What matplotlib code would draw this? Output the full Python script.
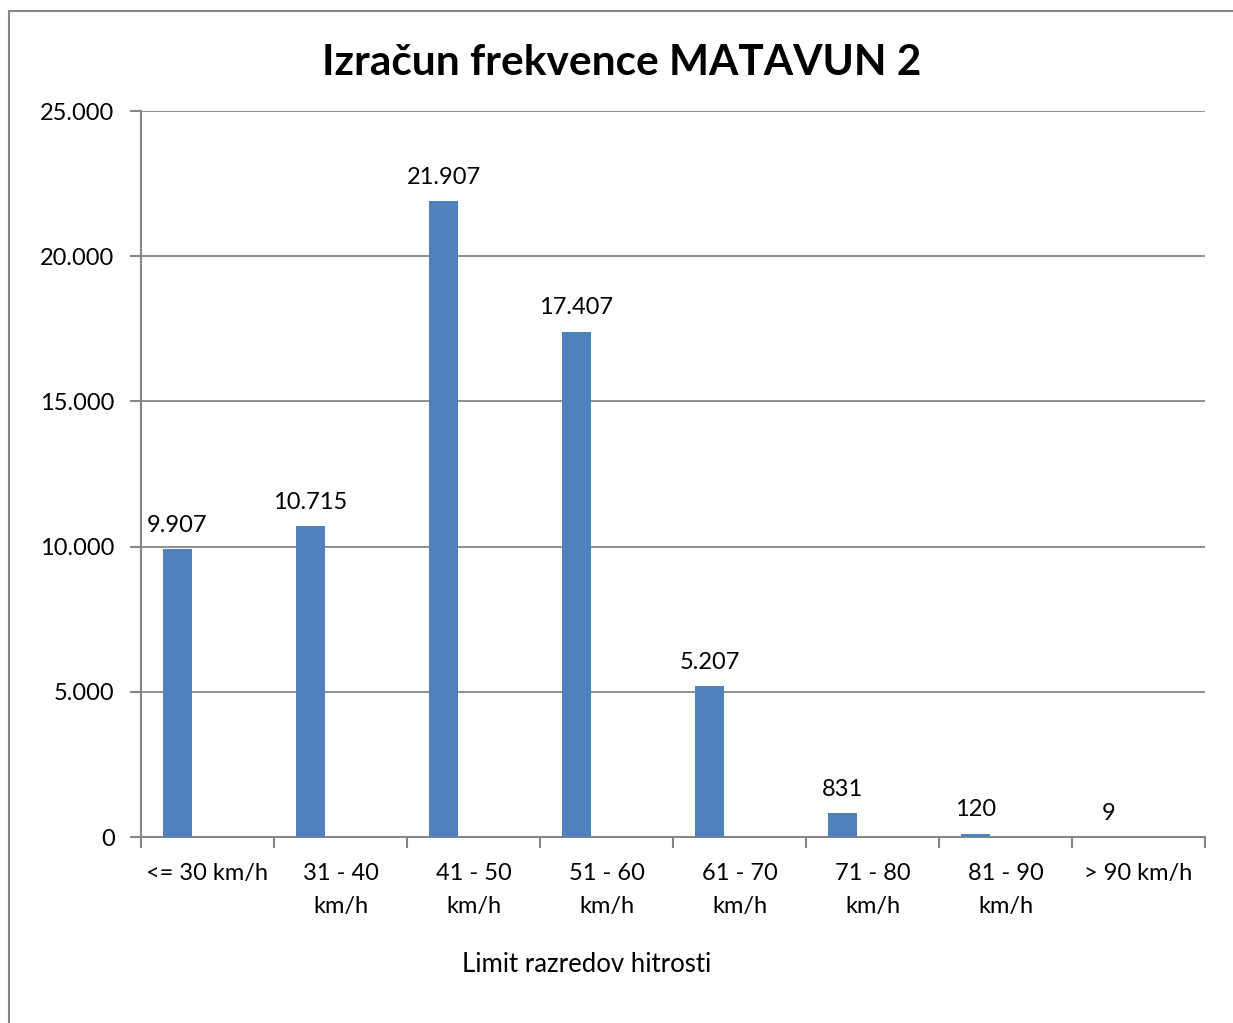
import matplotlib
matplotlib.use("Agg")
import matplotlib.pyplot as plt
from matplotlib.patches import Rectangle
from matplotlib.ticker import FuncFormatter
import numpy as np

categories = ["<= 30 km/h", "31 - 40\nkm/h", "41 - 50\nkm/h", "51 - 60\nkm/h",
              "61 - 70\nkm/h", "71 - 80\nkm/h", "81 - 90\nkm/h", "> 90 km/h"]
values = [9907, 10715, 21907, 17407, 5207, 831, 120, 9]
title = "Izračun frekvence MATAVUN 2"
xlabel = "Limit razredov hitrosti"

plt.rcParams['font.family'] = ['Lato', 'DejaVu Sans']

W, H = 1233, 1023
fig = plt.figure(figsize=(W / 100, H / 100), dpi=100)
fig.patches.append(Rectangle((9 / W, -0.05), 1.1, 1 - 11 / H + 0.05,
                             transform=fig.transFigure, fill=False,
                             edgecolor="#868686", linewidth=1.5))

ax = fig.add_axes([141 / W, 1 - 837 / H, (1205 - 141) / W, (837 - 111) / H])
axis_col = "#868686"
bar_col = "#4F81BD"

x = np.arange(len(values))
ax.bar(x + 0.274, values, width=0.22, color=bar_col, zorder=3)
for xi, v in zip(x, values):
    ax.text(xi + 0.274, v + 450, f"{v:,}".replace(",", "."), ha="center",
            va="bottom", fontsize=17, color="black")

ax.set_xlim(0, len(values))
ax.set_ylim(0, 25000)
ax.set_yticks(np.arange(0, 25001, 5000))
ax.yaxis.set_major_formatter(FuncFormatter(lambda v, p: f"{int(v):,}".replace(",", ".")))
ax.tick_params(axis="y", length=8, width=1.5, color=axis_col, labelsize=17, pad=11)
ax.grid(axis="y", color=axis_col, linewidth=1.3, zorder=0)

ax.set_xticks(np.arange(0, len(values) + 1))
ax.set_xticklabels([])
ax.tick_params(axis="x", which="major", length=8, width=1.5, color=axis_col)
ax.set_xticks(x + 0.5, minor=True)
ax.set_xticklabels(categories, minor=True, fontsize=17, linespacing=1.67)
ax.tick_params(axis="x", which="minor", length=0, pad=19)

for s in ["top", "right"]:
    ax.spines[s].set_visible(False)
for s in ["left", "bottom"]:
    ax.spines[s].set_color(axis_col)
    ax.spines[s].set_linewidth(1.5)

fig.text(622 / W, 1 - 63 / H, title, ha="center", va="center",
         fontsize=30.5, fontweight="bold")
fig.text(587 / W, 1 - 965 / H, xlabel, ha="center", va="center", fontsize=18.5)

fig.savefig("out.png", dpi=100)
